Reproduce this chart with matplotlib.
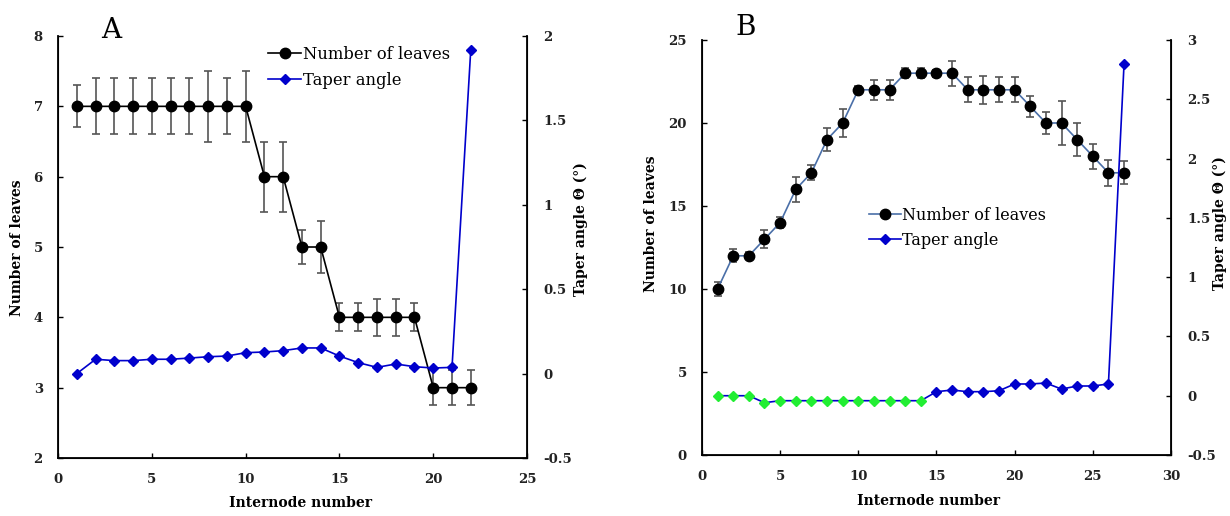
import matplotlib
matplotlib.use("Agg")
import matplotlib.pyplot as plt
from matplotlib.lines import Line2D

plt.rcParams['font.family'] = ['DejaVu Serif']

# Panel A data
a_x = list(range(1, 23))
a_leaves = [7, 7, 7, 7, 7, 7, 7, 7, 7, 7, 6, 6, 5, 5, 4, 4, 4, 4, 4, 3, 3, 3]
a_err = [0.3, 0.4, 0.4, 0.4, 0.4, 0.4, 0.4, 0.5, 0.4, 0.5, 0.5, 0.5, 0.24, 0.37,
         0.2, 0.2, 0.26, 0.26, 0.2, 0.25, 0.25, 0.25]
a_taper = [0.0, 0.085, 0.077, 0.077, 0.085, 0.085, 0.092, 0.10, 0.104, 0.124, 0.128,
           0.136, 0.152, 0.152, 0.104, 0.065, 0.037, 0.057, 0.041, 0.033, 0.037, 1.92]

# Panel B data
b_x = list(range(1, 28))
b_leaves = [10, 12, 12, 13, 14, 16, 17, 19, 20, 22, 22, 22, 23, 23, 23, 23, 22, 22,
            22, 22, 21, 20, 20, 19, 18, 17, 17]
b_err = [0.4, 0.4, 0.2, 0.55, 0.35, 0.75, 0.45, 0.7, 0.85, 0.2, 0.6, 0.6, 0.3, 0.3,
         0.2, 0.75, 0.75, 0.85, 0.75, 0.75, 0.65, 0.65, 1.3, 1.0, 0.75, 0.8, 0.7]
b_taper = [0.0, 0.0, 0.0, -0.059, -0.042, -0.042, -0.042, -0.042, -0.042, -0.042,
           -0.042, -0.042, -0.042, -0.042, 0.034, 0.048, 0.034, 0.034, 0.042, 0.099,
           0.099, 0.107, 0.056, 0.082, 0.082, 0.099, 2.80]
b_green_count = 14

BLUE = '#0000cc'
GREEN = '#22ee33'
ERRC = '#555555'
BLINE = '#4a6fa8'
TXT = '#222222'

fig = plt.figure(figsize=(12.3, 5.16), dpi=100)


def style_axes(ax, ax2):
    ax.spines['top'].set_visible(False)
    ax2.spines['top'].set_visible(False)
    for sp in ['left', 'bottom']:
        ax.spines[sp].set_linewidth(1.3)
    ax2.spines['right'].set_linewidth(1.3)
    ax.tick_params(axis='y', direction='in', length=3.5, width=1, labelsize=9.5,
                   pad=11, labelcolor=TXT)
    ax.tick_params(axis='x', direction='in', length=3.5, width=1, labelsize=9.5,
                   pad=11, labelcolor=TXT)
    ax2.tick_params(axis='y', direction='in', length=3.5, width=1, labelsize=9.5,
                    pad=11.5, labelcolor=TXT)
    for lab in ax.get_xticklabels() + ax.get_yticklabels() + ax2.get_yticklabels():
        lab.set_fontweight('bold')


# ---------- Panel A ----------
axA = fig.add_axes([0.0472, 0.1124, 0.3813, 0.8178])
axA2 = axA.twinx()
axA.errorbar(a_x, a_leaves, yerr=a_err, fmt='none', ecolor=ERRC, elinewidth=1.2,
             capsize=2.7, capthick=1.2, zorder=2)
axA.plot(a_x, a_leaves, color='black', lw=1.2, marker='o', ms=7.5, zorder=3)
axA2.plot(a_x, a_taper, color=BLUE, lw=1.2, marker='D', ms=5.5, mec=BLUE, mfc=BLUE)
axA.set_xlim(0, 25)
axA.set_ylim(2, 8)
axA.set_xticks([0, 5, 10, 15, 20, 25])
axA.set_yticks([2, 3, 4, 5, 6, 7, 8])
axA2.set_ylim(-0.5, 2)
axA2.set_yticks([-0.5, 0, 0.5, 1, 1.5, 2])
axA2.set_yticklabels(['-0.5', '0', '0.5', '1', '1.5', '2'])
axA.set_xlabel('Internode number', fontsize=10, fontweight='bold')
axA.set_ylabel('Number of leaves', fontsize=10, fontweight='bold')
axA2.set_ylabel('Taper angle \u0398 (\u00b0)', fontsize=10, fontweight='bold')
axA.xaxis.set_label_coords(0.516, -0.090)
axA.yaxis.set_label_coords(-0.0725, 0.498)
axA2.yaxis.set_label_coords(1.100, 0.543)
style_axes(axA, axA2)
hA = [Line2D([], [], color='black', marker='o', ms=7.5, lw=1.2),
      Line2D([], [], color=BLUE, marker='D', ms=5.5, lw=1.2)]
axA.legend(hA, ['Number of leaves', 'Taper angle'], loc='upper left',
           bbox_to_anchor=(0.448, 0.976), frameon=False, fontsize=11.8,
           handlelength=2.0, handletextpad=0.1, labelspacing=0.55, borderaxespad=0,
           borderpad=0)
fig.text(0.090, 0.940, 'A', fontsize=20, ha='center', va='center')

# ---------- Panel B ----------
axB = fig.add_axes([0.5707, 0.1182, 0.3813, 0.8043])
axB2 = axB.twinx()
axB.errorbar(b_x, b_leaves, yerr=b_err, fmt='none', ecolor=ERRC, elinewidth=1.2,
             capsize=2.7, capthick=1.2, zorder=2)
axB.plot(b_x, b_leaves, color=BLINE, lw=1.2, marker='o', ms=7.5, mfc='black',
         mec='black', zorder=3)
axB2.plot(b_x, b_taper, color=BLUE, lw=1.2, zorder=2)
axB2.plot(b_x[:b_green_count], b_taper[:b_green_count], ls='none', marker='D', ms=5.5,
          mfc=GREEN, mec=GREEN, zorder=3)
axB2.plot(b_x[b_green_count:], b_taper[b_green_count:], ls='none', marker='D', ms=5.5,
          mfc=BLUE, mec=BLUE, zorder=3)
axB.set_xlim(0, 30)
axB.set_ylim(0, 25)
axB.set_xticks([0, 5, 10, 15, 20, 25, 30])
axB.set_yticks([0, 5, 10, 15, 20, 25])
axB2.set_ylim(-0.5, 3)
axB2.set_yticks([-0.5, 0, 0.5, 1, 1.5, 2, 2.5, 3])
axB2.set_yticklabels(['-0.5', '0', '0.5', '1', '1.5', '2', '2.5', '3'])
axB.set_xlabel('Internode number', fontsize=10, fontweight='bold')
axB.set_ylabel('Number of leaves', fontsize=10, fontweight='bold')
axB2.set_ylabel('Taper angle \u0398 (\u00b0)', fontsize=10, fontweight='bold')
axB.xaxis.set_label_coords(0.482, -0.094)
axB.yaxis.set_label_coords(-0.094, 0.557)
axB2.yaxis.set_label_coords(1.088, 0.559)
style_axes(axB, axB2)
hB = [Line2D([], [], color=BLINE, marker='o', ms=7.5, lw=1.2, mfc='black', mec='black'),
      Line2D([], [], color=BLUE, marker='D', ms=5.5, lw=1.2)]
axB.legend(hB, ['Number of leaves', 'Taper angle'], loc='upper left',
           bbox_to_anchor=(0.356, 0.598), frameon=False, fontsize=11.5,
           handlelength=2.0, handletextpad=0.1, labelspacing=0.5, borderaxespad=0,
           borderpad=0)
fig.text(0.6065, 0.946, 'B', fontsize=20, ha='center', va='center')

fig.savefig('out.png', dpi=100)
